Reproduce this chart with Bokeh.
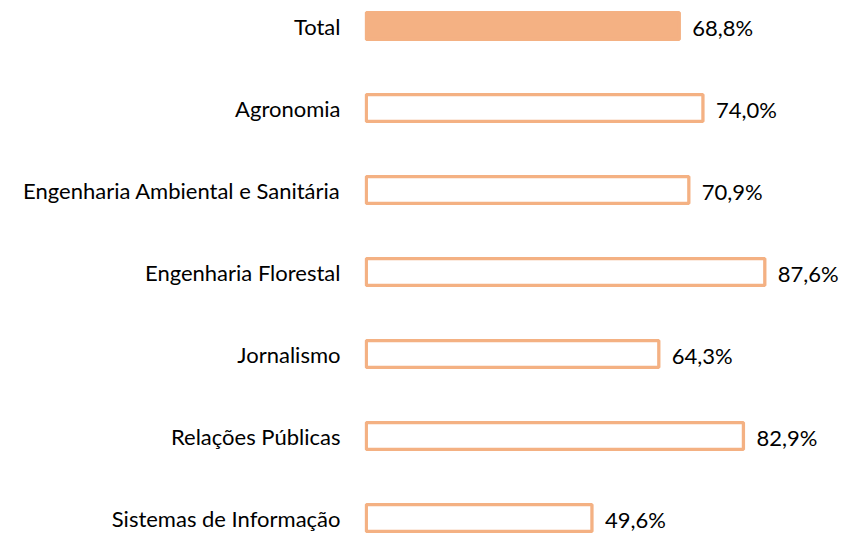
from bokeh.plotting import figure
from bokeh.models import ColumnDataSource, Range1d, FixedTicker
from bokeh.core.properties import value
from bokeh.embed import file_html
from bokeh.resources import INLINE

categories = ["Total", "Agronomia", "Engenharia Ambiental e Sanitária",
              "Engenharia Florestal", "Jornalismo", "Relações Públicas",
              "Sistemas de Informação"]
values = [68.8, 74.0, 70.9, 87.6, 64.3, 82.9, 49.6]
labels = ["68,8%", "74,0%", "70,9%", "87,6%", "64,3%", "82,9%", "49,6%"]

ORANGE = "#F4B183"
fills = [ORANGE] + ["#FFFFFF"] * (len(categories) - 1)
positions = list(range(len(categories)))

src = ColumnDataSource(dict(pos=positions, val=values, lab=labels, fill=fills))

p = figure(width=843, height=533,
           y_range=Range1d(6.189, -0.311),
           x_range=Range1d(-0.4, 104.9),
           output_backend="svg", toolbar_location=None,
           min_border_left=364, min_border_right=0,
           min_border_top=0, min_border_bottom=0)

p.hbar(y="pos", right="val", left=0, height=0.328, source=src,
       fill_color="fill", line_color=ORANGE, line_width=3.3)

p.text(x="val", y="pos", text="lab", source=src, x_offset=13, y_offset=1,
       text_align="left", text_baseline="middle",
       text_font=value("Lato"), text_font_size="22px", text_color="#000000")

p.xaxis.visible = False
p.xgrid.visible = False
p.ygrid.visible = False
p.outline_line_color = None

ax = p.yaxis[0]
ax.ticker = FixedTicker(ticks=positions)
ax.major_label_overrides = {i: c for i, c in zip(positions, categories)}
ax.axis_line_color = None
ax.major_tick_line_color = None
ax.minor_tick_line_color = None
ax.major_tick_out = 0
ax.major_tick_in = 0
ax.major_label_standoff = 24
ax.major_label_text_font = "Lato"
ax.major_label_text_font_size = "22px"
ax.major_label_text_color = "#000000"

open("out.html", "w").write(file_html(p, INLINE))
